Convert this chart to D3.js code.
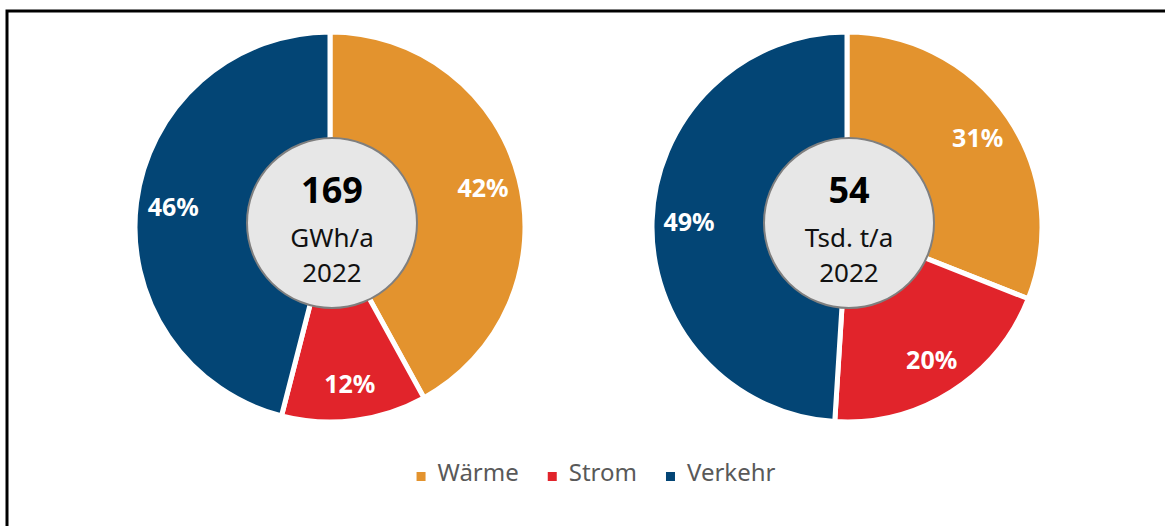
<!DOCTYPE html>
<html>
<head>
<meta charset="utf-8">
<script src="https://cdn.jsdelivr.net/npm/d3@7"></script>
<style>
  body { margin: 0; background: #fff; }
  svg { display: block; font-family: "Noto Sans", sans-serif; }
</style>
</head>
<body>
<svg width="1165" height="526"></svg>
<script>
// data
const categories = ['Wärme', 'Strom', 'Verkehr'];
const colors = ['#E3932E', '#E1242B', '#034575'];
const energyShares = [42, 12, 46];
const co2Shares = [31, 20, 49];
const totals = ['169', '54'];
const units = ['GWh/a', 'Tsd. t/a'];
const years = ['2022', '2022'];

const svg = d3.select('svg');

// frame
svg.append('path')
    .attr('d', 'M7,540 L7,11 L1180,11')
    .attr('fill', 'none')
    .attr('stroke', '#000')
    .attr('stroke-width', 3);

const color = d3.scaleOrdinal().domain(categories).range(colors);
const pie = d3.pie().sort(null).value(d => d.v);
const R = 195;
const arc = d3.arc().innerRadius(0).outerRadius(R);
const labelArc = d3.arc().innerRadius(158).outerRadius(158);

const charts = [
    { cx: 330, cy: 227, shares: energyShares, total: totals[0], unit: units[0], year: years[0] },
    { cx: 847, cy: 227, shares: co2Shares, total: totals[1], unit: units[1], year: years[1] }
];

charts.forEach(c => {
    const data = categories.map((k, i) => ({ k, v: c.shares[i] }));
    const g = svg.append('g').attr('transform', `translate(${c.cx},${c.cy})`);
    const arcs = pie(data);

    g.selectAll('path.slice')
        .data(arcs)
        .enter().append('path')
        .attr('class', 'slice')
        .attr('d', arc)
        .attr('fill', d => color(d.data.k))
        .attr('stroke', '#fff')
        .attr('stroke-width', 5)
        .attr('stroke-linejoin', 'miter');

    g.selectAll('text.pct')
        .data(arcs)
        .enter().append('text')
        .attr('class', 'pct')
        .attr('transform', d => `translate(${labelArc.centroid(d)})`)
        .attr('text-anchor', 'middle')
        .attr('dy', '0.36em')
        .attr('fill', '#fff')
        .attr('font-weight', 'bold')
        .attr('font-size', 25)
        .text(d => d.data.v + '%');

    // centre disc
    g.append('circle')
        .attr('cx', 2)
        .attr('cy', -4)
        .attr('r', 85)
        .attr('fill', '#E7E7E7')
        .attr('stroke', '#7F7F7F')
        .attr('stroke-width', 2);

    g.append('text')
        .attr('x', 2).attr('y', -24)
        .attr('text-anchor', 'middle')
        .attr('font-weight', 'bold')
        .attr('font-size', 36)
        .attr('fill', '#000')
        .text(c.total);
    g.append('text')
        .attr('x', 2).attr('y', 20)
        .attr('text-anchor', 'middle')
        .attr('font-size', 26)
        .attr('fill', '#111')
        .text(c.unit);
    g.append('text')
        .attr('x', 2).attr('y', 55)
        .attr('text-anchor', 'middle')
        .attr('font-size', 26)
        .attr('fill', '#111')
        .text(c.year);
});

// legend
const legend = svg.append('g');
let x = 0;
categories.forEach((k, i) => {
    const item = legend.append('g').attr('transform', `translate(${x},0)`);
    item.append('rect')
        .attr('x', 0).attr('y', -9)
        .attr('width', 9).attr('height', 9)
        .attr('fill', color(k));
    const t = item.append('text')
        .attr('x', 21).attr('y', 0)
        .attr('font-size', 24)
        .attr('fill', '#595959')
        .text(k);
    x += 21 + t.node().getComputedTextLength() + 29;
});
const legendWidth = x - 29;
legend.attr('transform', `translate(${596 - legendWidth / 2},481)`);
</script>
</body>
</html>
